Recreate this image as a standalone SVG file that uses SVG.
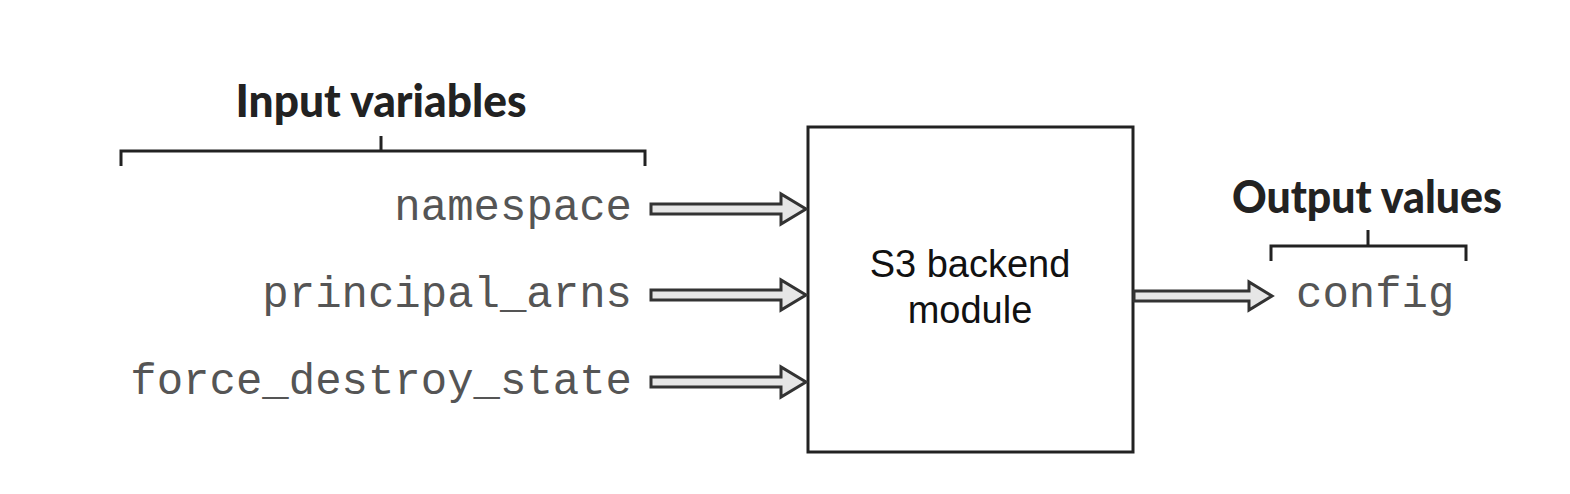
<svg xmlns="http://www.w3.org/2000/svg" width="1570" height="494" viewBox="0 0 1570 494">
<style>
.mono{font-family:"Liberation Mono","Courier New",monospace;font-size:44px;fill:#555}
.head{font-family:Lato,"Open Sans",sans-serif;font-weight:900;font-size:46px;fill:#222}
.lbl{font-family:"Liberation Sans",Arial,sans-serif;font-size:38px;fill:#111}
.br{fill:none;stroke:#222;stroke-width:3}
.arr{fill:#e6e6e6;stroke:#333;stroke-width:3;stroke-linejoin:miter}
</style>
<rect width="1570" height="494" fill="#fff"/>
<g id="input-heading">
<text class="head" x="381" y="117" text-anchor="middle" textLength="291" lengthAdjust="spacingAndGlyphs">Input variables</text>
<path class="br" d="M121,166 V151 H645 V166 M381,151 V136"/>
</g>
<g id="output-heading">
<text class="head" x="1367" y="213" text-anchor="middle" textLength="270" lengthAdjust="spacingAndGlyphs">Output values</text>
<path class="br" d="M1271,261 V246 H1466 V261 M1368,246 V230"/>
</g>
<g id="var-namespace"><text class="mono" x="632" y="220" text-anchor="end">namespace</text></g>
<g id="var-principal_arns"><text class="mono" x="632" y="307" text-anchor="end">principal_arns</text></g>
<g id="var-force_destroy_state"><text class="mono" x="632" y="394" text-anchor="end">force_destroy_state</text></g>
<g id="module">
<rect x="808" y="127" width="325" height="325" fill="#fff" stroke="#222" stroke-width="3"/>
<text class="lbl" x="970" y="277" text-anchor="middle">S3 backend</text>
<text class="lbl" x="970" y="323" text-anchor="middle">module</text>
</g>
<g id="out-config"><text class="mono" x="1296" y="307">config</text></g>
<g id="connectors">
<path class="arr" d="M651,204 H781 V194 L806,209 L781,224 V214 H651 Z"/>
<path class="arr" d="M651,290 H781 V280 L806,295 L781,310 V300 H651 Z"/>
<path class="arr" d="M651,377 H781 V367 L806,382 L781,397 V387 H651 Z"/>
<path class="arr" d="M1134,291 H1249 V282 L1272,296 L1249,310 V301 H1134 Z"/>
</g>
</svg>
